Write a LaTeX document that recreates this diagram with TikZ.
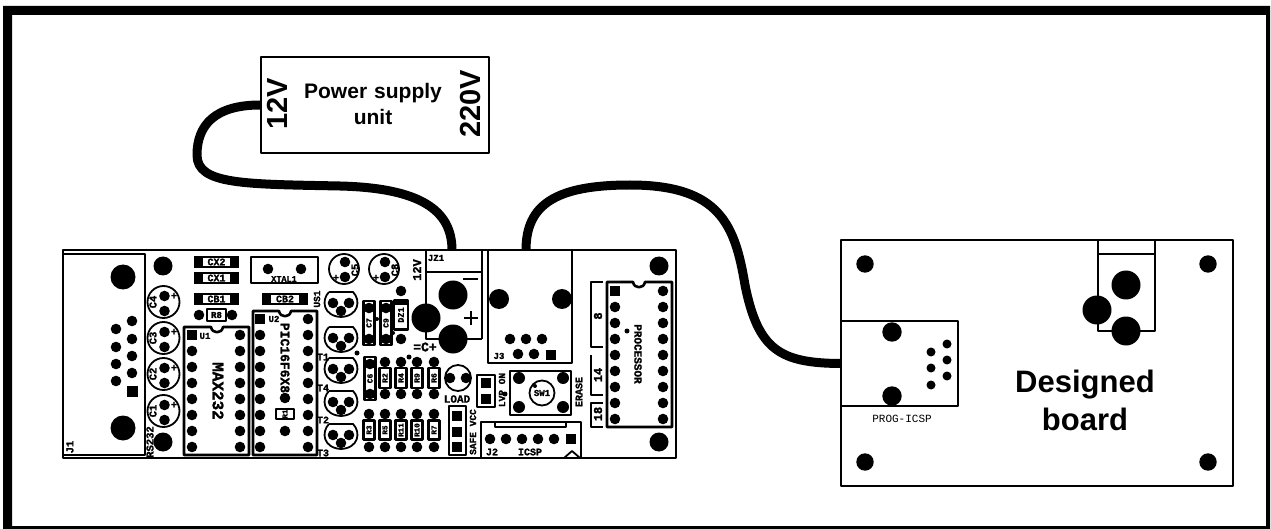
\documentclass[tikz,border=0pt]{standalone}
\usepackage{fontspec}
\setmainfont{Liberation Sans}
\setmonofont[BoldFeatures={FakeBold=1.5}]{Liberation Mono}
\tikzset{
	trace/.style={line width=1.8pt},
	cable/.style={line width=9pt,line cap=butt},
	box/.style={draw,line width=1.6pt,inner sep=0pt},
	part/.style={draw,line width=2.6pt,fill=white},
	lab/.style={inner sep=0pt,font=\fontsize{#1}{#1}\selectfont\ttfamily\bfseries},
	lab/.default=10.5,
	head/.style={inner sep=0pt,align=center,font=\fontsize{#1}{#1}\selectfont\bfseries},
}
\begin{document}
\begin{tikzpicture}[x=1pt,y=-1pt,line join=round]
	\useasboundingbox (0,0) rectangle (1271,529);
	\fill[even odd rule] (3,6) rectangle (1270,529) (12,15) rectangle (1266,526);
	% power supply
	\node[box,minimum width=228pt,minimum height=96pt] (psu) at (375,105) {};
	\node[head=21,text width=160pt,font=\fontsize{21}{26}\selectfont\bfseries] (psutext) at (373,104) {Power supply\\unit};
	\node[head=29,rotate=90] (twelve) at (277,104) {12V};
	\node[head=29,rotate=90] (mains) at (471,104) {220V};
	% main board
	\node[box,minimum width=613pt,minimum height=208pt] (mainboard) at (369.5,354) {};
	\draw[trace] (63,254) rectangle (145,455);
	\node[lab,rotate=90] (jone) at (70,447) {J1};
	\foreach \x/\y in {123/277,123/428} \fill (\x,\y) circle (12.5);
	\foreach \x/\y in {163/266,163/442,659/266,659/442} \fill (\x,\y) circle (9.5);
	\foreach \y in {321,339,356,373} \fill (132,\y) circle (5.3);
	\foreach \y in {329,347,364,381} \fill (116,\y) circle (5.3);
	\fill (127,386) rectangle (138,397);
	\node[lab,rotate=90] (rstwo) at (150,442) {RS232};
	% electrolytics
	\foreach \n/\y in {4/302,3/338,2/374,1/411}{
		\draw[trace] (163.5,\y) circle (16);
		\fill (164.5,\y-6) circle (5.3) (164.5,\y+9) circle (5.3);
		\node[lab] (plus\n) at (174,\y-6) {+};
		\node[lab,rotate=90] (C\n) at (153,\y) {C\n};
	}
	\foreach \n/\x in {5/344,8/384}{
		\draw[trace] (\x,269) circle (15);
		\fill (\x+1,262) circle (5.3) (\x+1,277) circle (5.3);
		\node[lab] (plus\n) at (\x-8,278) {+};
		\node[lab,rotate=90] (C\n) at (\x+11,270) {C\n};
	}
	% small capacitors
	\foreach \n/\xa/\xb/\y in {CX2/194/239/256,CX1/194/239/272,CB1/194/239/293,CB2/262/308/293}{
		\fill (\xa,\y) rectangle (\xb,\y+12);
		\fill[white] (\xa+9,\y+2) rectangle (\xb-9,\y+10);
		\node[lab=10] (\n) at ({(\xa+\xb)/2},\y+6) {\n};
	}
	\fill (199,315) circle (5.3) (232,315) circle (5.3);
	\node[part,minimum width=19pt,minimum height=12pt,lab=9] (Reight) at (216.5,315) {R8};
	\draw[part] (251,257) rectangle (318,283);
	\fill (268,269) circle (5.3) (301,269) circle (5.3);
	\node[lab=8.5] (xtal) at (284,279) {XTAL1};
	% chips
	\draw[part] (184,327) -- (211,327) .. controls (212,334) and (222,334) .. (223,327) -- (249,327) -- (249,455) -- (184,455) -- cycle;
	\foreach \i in {0,...,7}{
		\fill (240,335+16*\i) circle (5.3);
		\ifnum\i>0 \fill (192,335+16*\i) circle (5.3); \fi
	}
	\fill (187,330) rectangle (197,340);
	\node[lab=9] (Uone) at (205,336) {U1};
	\node[lab=16,rotate=-90] (maxchip) at (218,391) {MAX232};
	\draw[part] (253,311) -- (279,311) .. controls (280,318) and (290,318) .. (291,311) -- (317,311) -- (317,455) -- (253,455) -- cycle;
	\foreach \i in {0,...,8}{
		\fill (308,319+16*\i) circle (5.3);
		\ifnum\i>0 \fill (260,319+16*\i) circle (5.3); \fi
	}
	\fill (255,314) rectangle (265,324);
	\node[lab=9] (Utwo) at (274,319) {U2};
	\node[lab=13,rotate=-90] (picchip) at (285,358) {PIC16F6X8};
	\fill (285,398) circle (5.3) (285,431) circle (5.3);
	\node[part,minimum width=10pt,minimum height=18pt,lab=7.5,rotate=90] (Rone) at (285,414) {R1};
	\draw[part] (607,282) -- (633,282) .. controls (634,289) and (644,289) .. (645,282) -- (672,282) -- (672,427) -- (607,427) -- cycle;
	\foreach \i in {0,...,8}{
		\fill (663,291+16*\i) circle (5.3);
		\ifnum\i>0 \fill (615,291+16*\i) circle (5.3); \fi
	}
	\fill (610,286) rectangle (620,296);
	\fill (627,331) circle (2.5);
	\node[lab=11,rotate=-90] (procchip) at (638,354) {PROCESSOR};
	\draw[trace] (603,282) -- (591,282) -- (591,347) -- (603,347);
	\draw[trace] (591,355) -- (591,395) -- (603,395);
	\draw[trace] (603,403) -- (591,403) -- (591,427) -- (603,427);
	\node[lab=12,rotate=90] (eight) at (598,316) {8};
	\node[lab=12,rotate=90] (fourteen) at (598,375) {14};
	\node[lab=12,rotate=90] (eighteen) at (598,414) {18};
	% transistors
	\foreach \n/\y in {US1/303,T1/338,T4/369,T2/402,T3/435}{
		\draw[trace,shift={(341,\y)}] (-12,-11) -- (12,-11) .. controls (20,-3) and (18,13) .. (0,14) .. controls (-18,13) and (-20,-3) .. (-12,-11);
		\fill (333,\y) circle (5.3) (349,\y) circle (5.3) (341,\y+8) circle (5.3);
	}
	\node[lab=9.5,rotate=90] (USone) at (317,299) {US1};
	\foreach \n/\y in {T1/357,T4/388,T2/420,T3/453} \node[lab=10] (\n) at (323,\y) {\n};
	% resistors and caps in the middle
	\foreach \n/\y/\a/\b in {C7/369/301/345,C9/386/301/345,C6/370/357/400}{
		\node[part,minimum width=\b pt-\a pt,minimum height=11pt,lab=8,rotate=90] (\n) at (\y,{(\a+\b)/2}) {\n};
		\fill (\y,\a+7) circle (5.3) (\y,\b-6) circle (5.3);
	}
	\foreach \x/\y/\r in {377/319/2,393/333/2,357/353/2.5,409/357/2.5} \fill (\x,\y) circle (\r);
	\fill (401,291) circle (5.3) (401,339) circle (5.3);
	\node[part,minimum width=29pt,minimum height=14pt,lab=8.5,rotate=90] (DZone) at (401,315) {DZ1};
	\draw[line width=3pt] (394,303) -- (408,303);
	\node[lab=12,rotate=90] (twelveu) at (417,270) {12V};
	\foreach \n/\x in {R2/385,R4/401,R9/417,R6/434}{
		\fill (\x,362) circle (5.3) (\x,394) circle (5.3);
		\node[part,minimum width=20pt,minimum height=11pt,lab=8,rotate=90] (\n) at (\x,378) {\n};
	}
	\foreach \n/\x in {R3/369,R5/385,R11/401,R10/417,R7/434}{
		\fill (\x,414) circle (5.3) (\x,447) circle (5.3);
		\node[part,minimum width=19pt,minimum height=11pt,lab=7.5,rotate=90] (\n) at (\x,430) {\n};
	}
	% power jack
	\draw[trace] (426,272) -- (426,251) (482,251) -- (482,339) (426,272) -- (482,272) (426,272) -- (426,339) -- (482,339);
	\foreach \x/\y in {453/295,426/318,453/339} \fill (\x,\y) circle (14.5);
	\draw[trace] (463,279) -- (478,279) (464,318) -- (478,318) (471,311) -- (471,325);
	\node[lab=9] (JZ) at (436,258) {JZ1};
	\coordinate (jack) at (452,250);
	\node[lab=13] (bulk) at (425,347) {=C+};
	% J3
	\draw[trace] (488,250) rectangle (572,363);
	\foreach \x in {499,562} \fill (\x,299) circle (10);
	\foreach \x in {510,526,542} \fill (\x,339) circle (5.3);
	\foreach \x in {518,534} \fill (\x,354) circle (5.3);
	\fill (546,350) rectangle (556,360);
	\node[lab=9] (Jthree) at (499,356) {J3};
	\coordinate (progout) at (526,250);
	% jumpers, LOAD
	\draw[trace] (458,378) circle (13);
	\fill (450,378) circle (5.3) (466,378) circle (5.3);
	\node[lab=11] (load) at (457,399) {LOAD};
	\draw[part] (449,406) rectangle (466,455);
	\foreach \y in {416,432,447} \fill (452,\y-5) rectangle (462,\y+5);
	\node[lab=9.5,rotate=90] (safe) at (473,432) {SAFE VCC};
	\draw[part] (477,375) rectangle (495,407);
	\foreach \y in {383,399} \fill (481,\y-5) rectangle (491,\y+5);
	\node[lab=9.5,rotate=90] (lvp) at (502,390) {LVP ON};
	\fill (505,394) circle (2.5);
	% switch
	\draw[part] (510,371) rectangle (571,415);
	\foreach \x/\y in {519/378,563/378,519/407,563/407} \fill (\x,\y) circle (6);
	\draw[trace] (542,393) circle (12.5);
	\fill (535,386) circle (2);
	\node[lab=9] (swone) at (542,393) {SW1};
	\node[lab=10,rotate=90] (erase) at (579,392) {ERASE};
	% ICSP header
	\draw[trace] (481,422) rectangle (581,458);
	\draw[trace] (495,422) -- (495,427) -- (566,427) -- (566,422);
	\foreach \x in {490,506,522,538,554} \fill (\x,439) circle (5.3);
	\fill (566,434) rectangle (576,444);
	\node[lab=10] (Jtwo) at (492,452) {J2};
	\node[lab=10] (icsp) at (530,452) {ICSP};
	\draw[trace] (564,458) -- (572,451) -- (580,458);
	% designed board
	\node[box,minimum width=392pt,minimum height=246pt] (target) at (1037,363) {};
	\foreach \x/\y in {865/264,1208/264,865/462,1208/462} \fill (\x,\y) circle (8.7);
	\node[box,minimum width=117pt,minimum height=85pt] (prog) at (899.5,363.5) {};
	\foreach \y in {332,396} \fill (892,\y) circle (9.7);
	\foreach \y in {352,368,385} \fill (931,\y) circle (4.5);
	\foreach \y in {344,360,376} \fill (947,\y) circle (4.5);
	\node[inner sep=0pt,font=\fontsize{11}{11}\selectfont\ttfamily] (progname) at (902,419) {PROG-ICSP};
	\draw[trace] (1098,240) -- (1098,331) -- (1155,331) -- (1155,240) (1098,254) -- (1155,254);
	\foreach \x/\y in {1126/285,1097/310,1126/331} \fill (\x,\y) circle (14.5);
	\node[head=31,font=\fontsize{31}{38}\selectfont\bfseries] (boardname) at (1085,400) {Designed\\board};
	% cables
	\draw[cable] (psu.west) .. controls (215,105) and (197,125) .. (197,155) .. controls (197,185) and (245,184) .. (340,186) .. controls (420,188) and (452,210) .. (jack);
	\draw[cable] (progout) .. controls (526,205) and (555,185) .. (630,185) .. controls (720,185) and (735,225) .. (745,285) .. controls (758,350) and (780,363) .. (prog.west);
\end{tikzpicture}
\end{document}
